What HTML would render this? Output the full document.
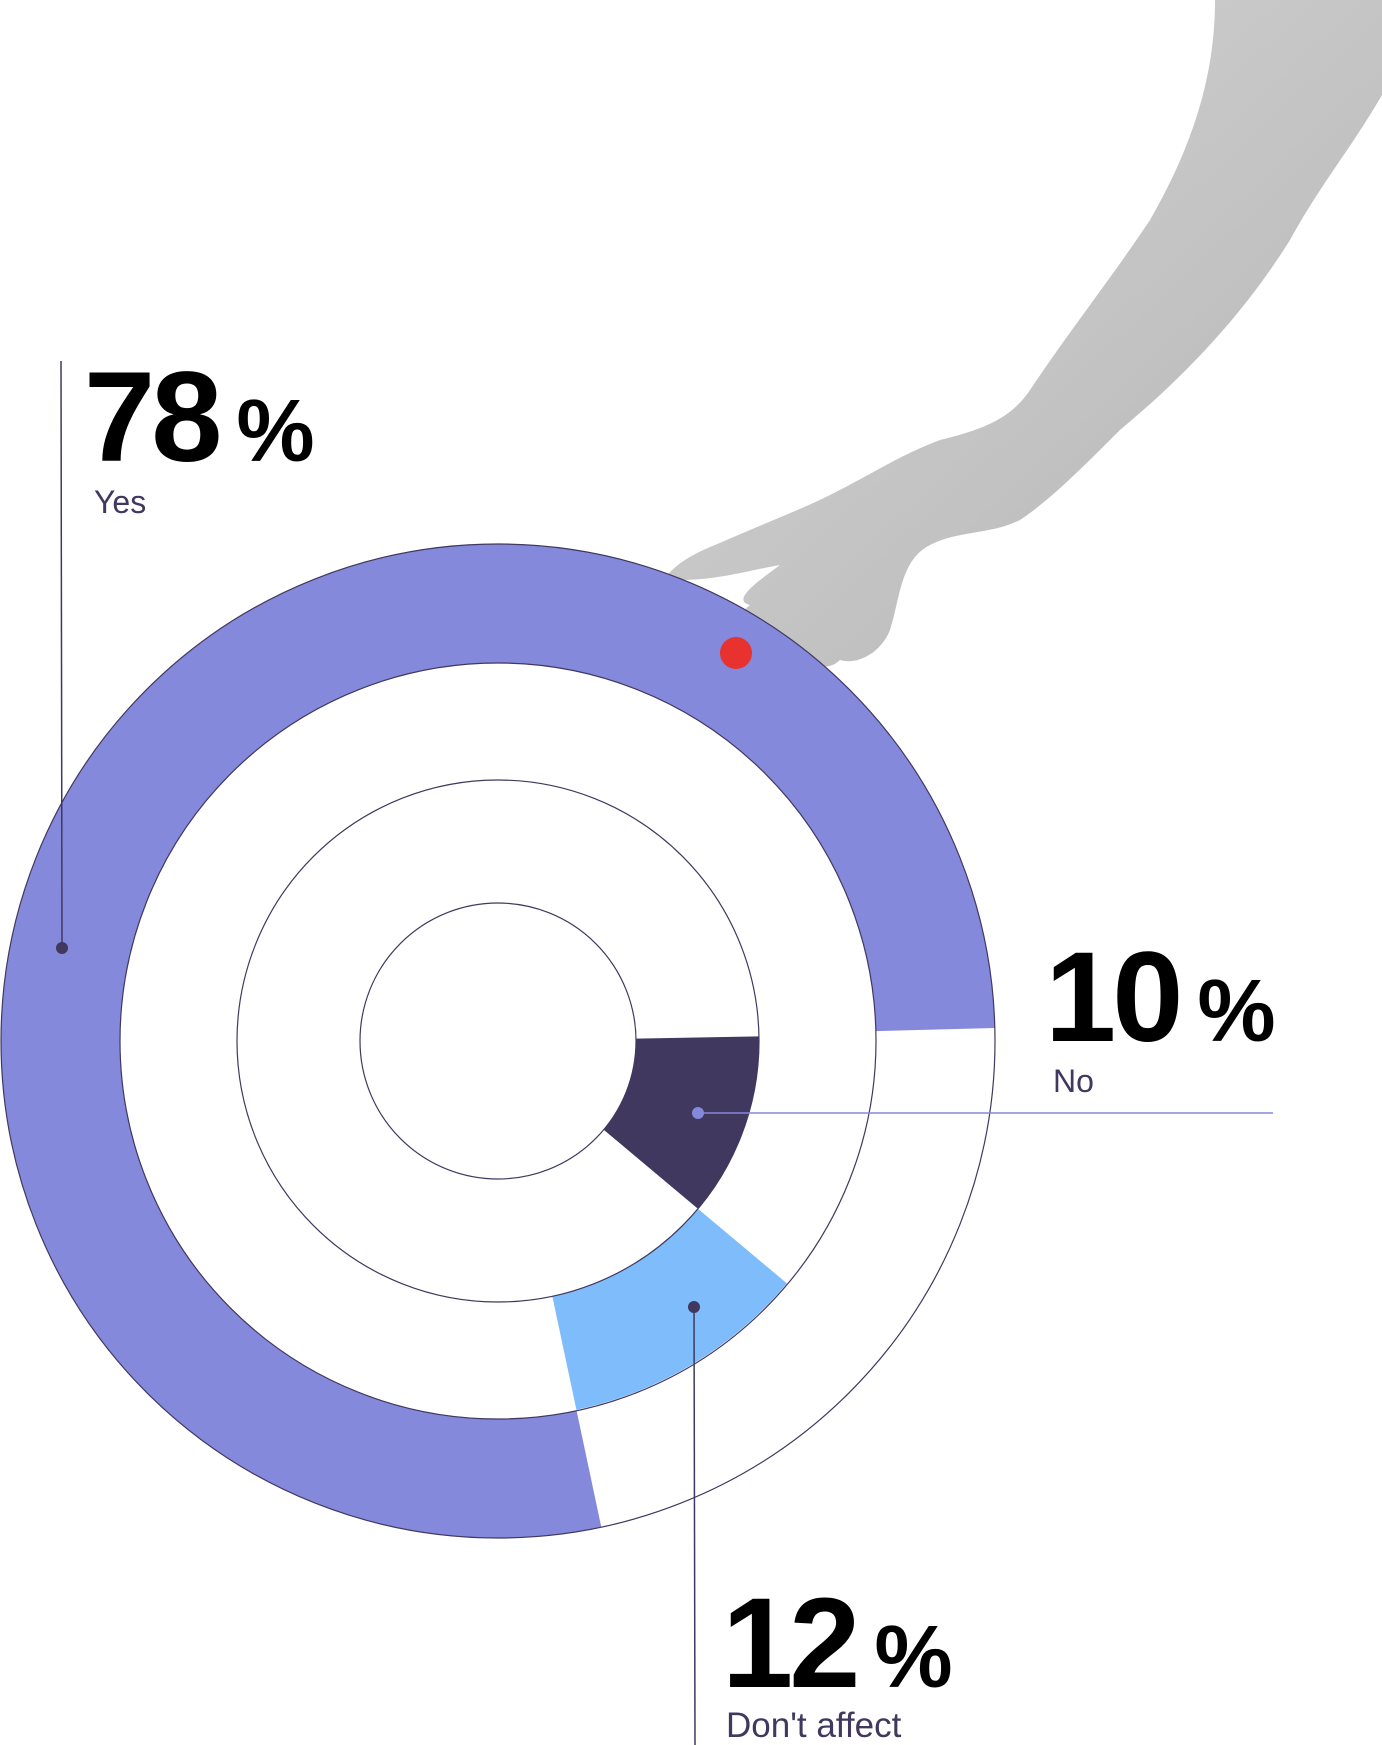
<!DOCTYPE html>
<html><head><meta charset="utf-8"><style>
html,body{margin:0;padding:0;background:#fff;}
body{width:1382px;height:1745px;position:relative;overflow:hidden;font-family:"Liberation Sans",sans-serif;}
.n{position:absolute;font-weight:bold;color:#000;font-size:128px;line-height:1;letter-spacing:-4px;}
.n span{font-size:88px;letter-spacing:0;margin-left:18px;}
.l{position:absolute;color:#41385f;font-size:32px;line-height:1;}
</style></head><body>
<svg width="1382" height="1745" style="position:absolute;left:0;top:0">
<defs>
<linearGradient id="g" x1="0" y1="0" x2="1" y2="1">
<stop offset="0" stop-color="#d6d6d6"/><stop offset="1" stop-color="#b4b4b4"/></linearGradient>
</defs>
<path d="M1215,0 L1382,0 L1382,95 C1350,150 1320,185 1290,240 C1240,320 1180,380 1120,430 C1080,470 1050,500 1020,520 C990,535 960,530 930,545 C900,560 900,600 890,630 C880,655 855,665 840,660 C830,670 815,668 800,660 C790,668 770,665 760,652 C745,640 760,625 755,615 C740,625 720,630 750,605 C730,600 760,580 780,565 C750,570 700,585 665,578 C675,565 690,555 715,545 C760,525 800,510 830,495 C870,475 900,455 940,440 C980,430 1010,420 1030,390 C1070,330 1110,280 1150,220 C1190,150 1215,80 1215,0 Z" fill="url(#g)"/>
<g transform="translate(498,1041)">
<path d="M496.8,-13 A497,497 0 1 0 103.3,486.1 L78.6,369.7 A378,378 0 1 1 377.9,-9.9 Z" fill="#8489db"/>
<path d="M260.9,-4.6 A261,261 0 0 1 199.9,167.8 L105.7,88.7 A138,138 0 0 0 138,-2.4 Z" fill="#41385f"/>
<path d="M288.9,242.4 A377,377 0 0 1 78.4,368.8 L54.3,255.3 A261,261 0 0 0 199.9,167.8 Z" fill="#7fbcfb"/>
<circle r="497" fill="none" stroke="#41385f" stroke-width="1.2"/>
<circle r="378" fill="none" stroke="#41385f" stroke-width="1.2"/>
<circle r="261" fill="none" stroke="#41385f" stroke-width="1.2"/>
<circle r="138" fill="none" stroke="#41385f" stroke-width="1.2"/>
</g>
<line x1="61" y1="361" x2="62" y2="948" stroke="#41385f" stroke-width="1.5"/>
<circle cx="62" cy="948" r="6" fill="#41385f"/>
<line x1="698" y1="1113" x2="1273" y2="1113" stroke="#8489db" stroke-width="1.5"/>
<circle cx="698" cy="1113" r="6" fill="#8489db"/>
<line x1="694" y1="1307" x2="695" y2="1745" stroke="#41385f" stroke-width="1.5"/>
<circle cx="694" cy="1307" r="6" fill="#41385f"/>
<circle cx="736" cy="653" r="16" fill="#e8322f"/>
</svg>
<div class="n" style="left:84px;top:354px">78<span>%</span></div>
<div class="l" style="left:94px;top:486px">Yes</div>
<div class="n" style="left:1045px;top:934px">10<span>%</span></div>
<div class="l" style="left:1053px;top:1065px">No</div>
<div class="n" style="left:722px;top:1580px">12<span>%</span></div>
<div class="l" style="left:726px;top:1708px;font-size:35px">Don't affect</div>
</body></html>
